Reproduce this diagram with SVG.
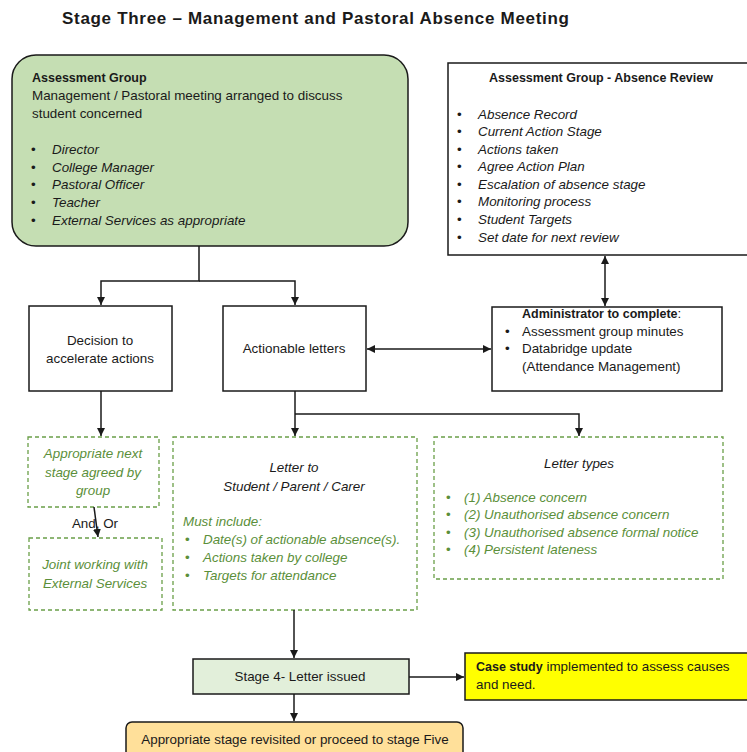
<svg xmlns="http://www.w3.org/2000/svg" width="747" height="752" viewBox="0 0 747 752">
<style>
text{font-family:"Liberation Sans","Open Sans",Arial,sans-serif;font-size:13.4px;fill:#1a1a1a}
.b{font-weight:bold;font-size:12.5px}
.i{font-style:italic}
.g{fill:#5b8f3a}
.c{text-anchor:middle}
.box{fill:#fff;stroke:#1a1a1a;stroke-width:1.5}
.dash{fill:#fff;stroke:#6a9f48;stroke-width:1.3;stroke-dasharray:4 3}
.ln{fill:none;stroke:#1a1a1a;stroke-width:1.5}
</style>
<defs>
<marker id="ah" viewBox="0 0 10 10" refX="10" refY="5" markerWidth="8" markerHeight="8" markerUnits="userSpaceOnUse" orient="auto-start-reverse">
<path d="M0,0 L10,5 L0,10 z" fill="#1a1a1a"/>
</marker>
</defs>
<rect width="747" height="752" fill="#fff"/>
<text x="62" y="24" style="font-weight:bold;font-size:17px" textLength="507">Stage Three –  Management and Pastoral Absence Meeting</text>

<g id="assessment-group">
<rect x="12" y="55" width="396" height="191" rx="24" fill="#c5deb3" stroke="#1a1a1a" stroke-width="1.5"/>
<text x="32" y="82" class="b">Assessment Group</text>
<text x="32" y="100">Management / Pastoral meeting arranged to discuss</text>
<text x="32" y="118">student concerned</text>
<text x="31" y="154">•</text><text x="52" y="154" class="i">Director</text>
<text x="31" y="172">•</text><text x="52" y="172" class="i">College Manager</text>
<text x="31" y="189">•</text><text x="52" y="189" class="i">Pastoral Officer</text>
<text x="31" y="207">•</text><text x="52" y="207" class="i">Teacher</text>
<text x="31" y="225">•</text><text x="52" y="225" class="i">External Services as appropriate</text>
</g>

<g id="absence-review">
<rect x="448" y="63" width="310" height="192" class="box"/>
<text x="601" y="82" class="b c">Assessment Group - Absence Review</text>
<text x="457" y="119">•</text><text x="478" y="119" class="i">Absence Record</text>
<text x="457" y="136">•</text><text x="478" y="136" class="i">Current Action Stage</text>
<text x="457" y="154">•</text><text x="478" y="154" class="i">Actions taken</text>
<text x="457" y="171">•</text><text x="478" y="171" class="i">Agree Action Plan</text>
<text x="457" y="189">•</text><text x="478" y="189" class="i">Escalation of absence stage</text>
<text x="457" y="206">•</text><text x="478" y="206" class="i">Monitoring process</text>
<text x="457" y="224">•</text><text x="478" y="224" class="i">Student Targets</text>
<text x="457" y="242">•</text><text x="478" y="242" class="i">Set date for next review</text>
</g>

<g id="decision">
<rect x="29" y="306" width="143" height="85" class="box"/>
<text x="100" y="345" class="c">Decision to</text>
<text x="100" y="363" class="c">accelerate actions</text>
</g>

<g id="actionable-letters">
<rect x="223" y="306" width="143" height="85" class="box"/>
<text x="294" y="353" class="c">Actionable letters</text>
</g>

<g id="administrator">
<rect x="492" y="307" width="230" height="84" class="box"/>
<text x="522" y="318"><tspan class="b">Administrator to complete</tspan>:</text>
<text x="505" y="336">•</text><text x="522" y="336">Assessment group minutes</text>
<text x="505" y="353">•</text><text x="522" y="353">Databridge update</text>
<text x="522" y="371">(Attendance Management)</text>
</g>

<g id="next-stage">
<rect x="28" y="437" width="131" height="70" class="dash"/>
<text x="93" y="458" class="i g c">Appropriate next</text>
<text x="93" y="477" class="i g c">stage agreed by</text>
<text x="93" y="495" class="i g c">group</text>
</g>

<text x="95" y="528" class="c">And, Or</text>

<g id="joint-working">
<rect x="29" y="538" width="133" height="72" class="dash"/>
<text x="95" y="569" class="i g c">Joint working with</text>
<text x="95" y="588" class="i g c">External Services</text>
</g>

<g id="letter-to">
<rect x="173" y="437" width="244" height="173" class="dash"/>
<text x="294" y="472" class="i c">Letter to</text>
<text x="294" y="491" class="i c">Student / Parent / Carer</text>
<text x="183" y="526" class="i g">Must include:</text>
<text x="185" y="544" class="g">•</text><text x="203" y="544" class="i g">Date(s) of actionable absence(s).</text>
<text x="185" y="562" class="g">•</text><text x="203" y="562" class="i g">Actions taken by college</text>
<text x="185" y="580" class="g">•</text><text x="203" y="580" class="i g">Targets for attendance</text>
</g>

<g id="letter-types">
<rect x="434" y="437" width="289" height="142" class="dash"/>
<text x="579" y="468" class="i c">Letter types</text>
<text x="446" y="502" class="g">•</text><text x="464" y="502" class="i g">(1) Absence concern</text>
<text x="446" y="519" class="g">•</text><text x="464" y="519" class="i g">(2) Unauthorised absence concern</text>
<text x="446" y="537" class="g">•</text><text x="464" y="537" class="i g">(3) Unauthorised absence formal notice</text>
<text x="446" y="554" class="g">•</text><text x="464" y="554" class="i g">(4) Persistent lateness</text>
</g>

<g id="stage4">
<rect x="193" y="659" width="216" height="35" fill="#e2efda" stroke="#1a1a1a" stroke-width="1.5"/>
<text x="300" y="681" class="c">Stage 4- Letter issued</text>
</g>

<g id="case-study">
<rect x="465" y="653" width="295" height="47" fill="#ffff00" stroke="#1a1a1a" stroke-width="1.5"/>
<text x="476" y="671"><tspan class="b">Case study</tspan> implemented to assess causes</text>
<text x="476" y="689">and need.</text>
</g>

<g id="revisit">
<rect x="126" y="722" width="337" height="40" rx="6" fill="#ffe09a" stroke="#1a1a1a" stroke-width="1.5"/>
<text x="295" y="744" class="c">Appropriate stage revisited or proceed to stage Five</text>
</g>

<g id="connectors">
<path class="ln" d="M199,246 V281 H101 V305" marker-end="url(#ah)"/>
<path class="ln" d="M199,281 H295 V305" marker-end="url(#ah)"/>
<path class="ln" d="M605,256 V306" marker-start="url(#ah)" marker-end="url(#ah)"/>
<path class="ln" d="M367,349 H491" marker-start="url(#ah)" marker-end="url(#ah)"/>
<path class="ln" d="M101,391 V436" marker-end="url(#ah)"/>
<path class="ln" d="M295,391 V436" marker-end="url(#ah)"/>
<path class="ln" d="M295,414 H579 V436" marker-end="url(#ah)"/>
<path class="ln" d="M94,507 L98,537" marker-end="url(#ah)"/>
<path class="ln" d="M294,610 V658" marker-end="url(#ah)"/>
<path class="ln" d="M409,677 H464" marker-end="url(#ah)"/>
<path class="ln" d="M294,694 V721" marker-end="url(#ah)"/>
</g>
</svg>
